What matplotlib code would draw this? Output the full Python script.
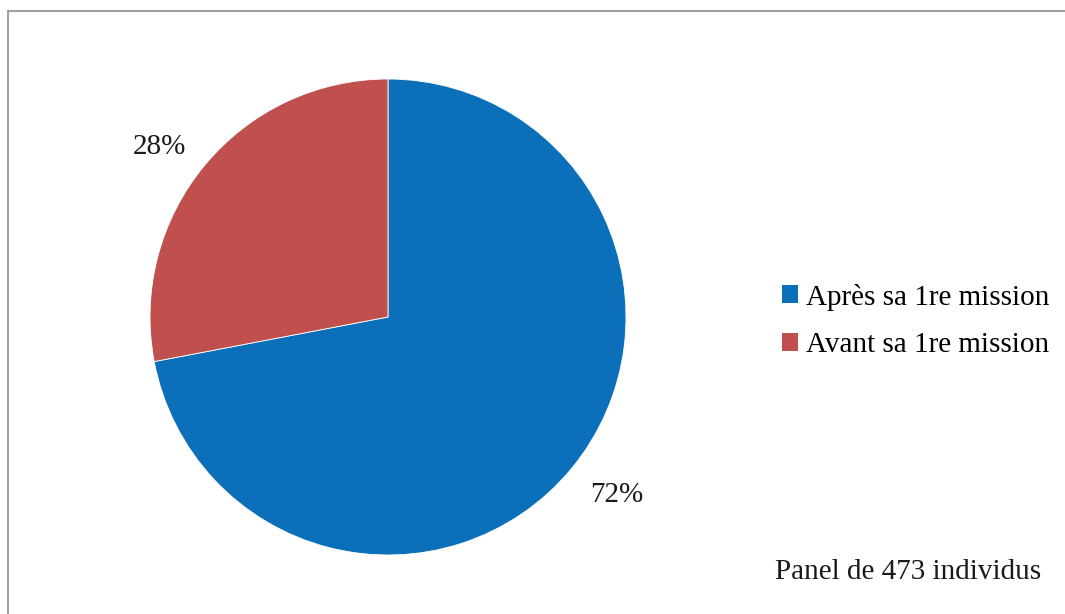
import matplotlib
matplotlib.use("Agg")
import matplotlib.pyplot as plt
from matplotlib.patches import Patch

labels = ["Après sa 1re mission", "Avant sa 1re mission"]
shares = [72, 28]
colors = ["#0B6FBA", "#C0504D"]
note = "Panel de 473 individus"

plt.rcParams["font.family"] = ["Liberation Serif", "DejaVu Serif"]

W, H = 1065, 614
fig = plt.figure(figsize=(W / 100, H / 100), dpi=100)

# grey frame (only top and left edges are visible in the cropped original)
fig.add_artist(plt.Line2D([8 / W, 8 / W], [0, 1 - 11 / H], color="#A0A0A0", lw=1.5))
fig.add_artist(plt.Line2D([8 / W, 1], [1 - 11 / H, 1 - 11 / H], color="#A0A0A0", lw=1.5))

cx, cy, r = 388, 317, 238
ax = fig.add_axes([(cx - r) / W, (H - cy - r) / H, 2 * r / W, 2 * r / H])
wedges, _, autotexts = ax.pie(
    shares, colors=colors, startangle=90, counterclock=False,
    autopct="%.0f%%", pctdistance=1.2, radius=1,
    wedgeprops=dict(edgecolor="white", linewidth=0.6),
    textprops=dict(fontsize=21, color="#1a1a1a"),
)
# nudge the percent labels to where the original puts them
autotexts[0].set_position((0.962, -0.748))
autotexts[1].set_position((-0.962, 0.714))
ax.set_xlim(-1, 1)
ax.set_ylim(-1, 1)
ax.set_aspect("equal")
ax.axis("off")

handles = [Patch(facecolor=c, edgecolor="none") for c in colors]
fig.legend(handles, labels, loc="center left",
           bbox_to_anchor=(770 / W, 1 - 321 / H), frameon=False,
           fontsize=21, handlelength=0.55, handleheight=0.55,
           handletextpad=0.3, labelspacing=0.75, borderaxespad=0)

fig.text(775 / W, 1 - 572 / H, note, fontsize=21, color="#1a1a1a",
         va="center", ha="left")

fig.savefig("out.png", dpi=100)
